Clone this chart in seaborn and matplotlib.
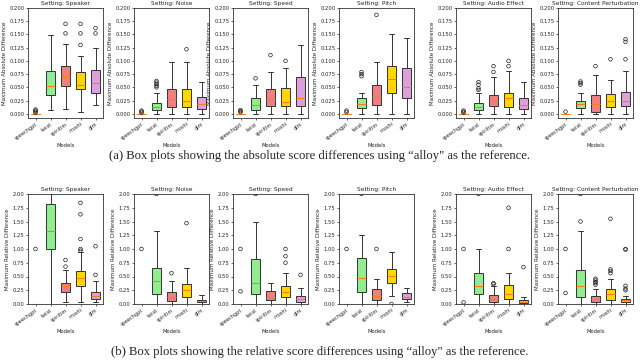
import numpy as np
import pandas as pd
import matplotlib
matplotlib.use("Agg")
import matplotlib.pyplot as plt
import seaborn as sns

# models and settings
MODELS = ["speechgpt", "twist", "spiritlm", "moshi", "glm"]
SETTINGS = ["Speaker", "Noise", "Speed", "Pitch", "Audio Effect", "Content Perturbation"]
COLORS = ["lightblue", "lightgreen", "lightcoral", "gold", "plum"]

# five-number summaries: [low whisker, q1, median, q3, high whisker]
# --- (a) absolute differences ---
abs_speaker = [[0, 0, 0, 0, 0], [0.008, 0.035, 0.052, 0.081, 0.149],
               [0.009, 0.052, 0.071, 0.090, 0.131], [0.003, 0.047, 0.055, 0.079, 0.109],
               [0.016, 0.040, 0.058, 0.083, 0.124]]
abs_speaker_out = [[0.002, 0.004, 0.006, 0.008], [], [0.152, 0.170],
                   [0.130, 0.152, 0.170], [0.152, 0.162]]
abs_noise = [[0, 0, 0, 0, 0], [0, 0.008, 0.013, 0.020, 0.039],
             [0, 0.013, 0.027, 0.046, 0.097], [0, 0.013, 0.025, 0.046, 0.097],
             [0, 0.009, 0.019, 0.032, 0.060]]
abs_noise_out = [[0.002, 0.004, 0.006], [0.050, 0.053, 0.056, 0.059, 0.062], [],
                 [0.122], []]
abs_speed = [[0, 0, 0, 0, 0], [0, 0.008, 0.016, 0.029, 0.055],
             [0, 0.014, 0.027, 0.046, 0.079], [0, 0.014, 0.023, 0.048, 0.087],
             [0, 0.014, 0.030, 0.069, 0.130]]
abs_speed_out = [[0.003, 0.005, 0.007], [0.067], [0.111], [0.100], []]
abs_pitch = [[0, 0, 0, 0, 0], [0, 0.010, 0.019, 0.030, 0.040],
             [0, 0.017, 0.032, 0.055, 0.097], [0, 0.040, 0.065, 0.090, 0.150],
             [0, 0.030, 0.050, 0.087, 0.144]]
abs_pitch_out = [[0.003, 0.006], [0.071, 0.075, 0.079], [0.187], [], []]
abs_audio = [[0, 0, 0, 0, 0], [0, 0.008, 0.013, 0.021, 0.040],
             [0, 0.014, 0.025, 0.036, 0.069], [0, 0.013, 0.029, 0.039, 0.081],
             [0, 0.009, 0.017, 0.030, 0.060]]
abs_audio_out = [[0.002, 0.004, 0.006], [0.045, 0.048, 0.055, 0.060], [0.079, 0.090],
                 [0.090, 0.100], []]
abs_content = [[0, 0, 0, 0, 0], [0, 0.010, 0.018, 0.025, 0.040],
               [0, 0.003, 0.018, 0.036, 0.073], [0, 0.013, 0.025, 0.038, 0.064],
               [0, 0.014, 0.025, 0.041, 0.081]]
abs_content_out = [[0.004], [0.055, 0.058, 0.061], [0.090], [0.103],
                   [0.103, 0.136, 0.141]]

# --- (b) relative differences ---
rel_speaker = [[0, 0, 0, 0, 0], [0, 1.00, 1.33, 1.82, 2.10],
               [0.03, 0.22, 0.32, 0.39, 0.62], [0.03, 0.33, 0.47, 0.60, 0.94],
               [0.04, 0.09, 0.15, 0.22, 0.41]]
rel_speaker_out = [[1.00], [], [0.68, 0.80], [0.97, 1.00, 1.18, 1.63, 1.84], [0.53, 1.05]]
rel_noise = [[0, 0, 0, 0, 0], [0, 0.18, 0.41, 0.66, 1.33],
             [0, 0.06, 0.13, 0.22, 0.41], [0, 0.13, 0.25, 0.36, 0.65],
             [0, 0.04, 0.06, 0.08, 0.16]]
rel_noise_out = [[1.00], [2.00], [0.56], [1.47], []]
rel_speed = [[0, 0, 0, 0, 0], [0, 0.18, 0.38, 0.81, 1.50],
             [0, 0.07, 0.13, 0.24, 0.39], [0, 0.13, 0.21, 0.33, 0.57],
             [0, 0.04, 0.09, 0.14, 0.30]]
rel_speed_out = [[0.23, 1.00], [2.00], [], [0.75, 0.87, 1.00], [0.53]]
rel_pitch = [[0, 0, 0, 0, 0], [0, 0.22, 0.47, 0.83, 1.26],
             [0, 0.07, 0.15, 0.27, 0.45], [0.15, 0.38, 0.51, 0.63, 0.94],
             [0.04, 0.09, 0.13, 0.20, 0.30]]
rel_pitch_out = [[1.00], [2.00], [1.00], [0.0], []]
rel_audio = [[0, 0, 0, 0, 0], [0, 0.19, 0.33, 0.57, 1.00],
             [0, 0.04, 0.10, 0.16, 0.33], [0, 0.10, 0.19, 0.35, 0.56],
             [0, 0.02, 0.04, 0.07, 0.13]]
rel_audio_out = [[0.03, 1.00], [2.00], [0.36, 0.38], [1.00, 1.75], [0.67]]
rel_content = [[0, 0, 0, 0, 0], [0, 0.13, 0.33, 0.62, 1.33],
               [0, 0.04, 0.09, 0.15, 0.27], [0, 0.08, 0.18, 0.27, 0.45],
               [0, 0.04, 0.07, 0.10, 0.15]]
rel_content_out = [[0.20, 1.00], [1.50, 2.00], [0.35, 0.38, 0.40, 0.43, 0.46],
                   [0.56, 0.60, 0.63, 1.55], [0.25, 0.28, 0.33, 0.99, 1.00]]

ABS_PANELS = [(abs_speaker, abs_speaker_out), (abs_noise, abs_noise_out),
              (abs_speed, abs_speed_out), (abs_pitch, abs_pitch_out),
              (abs_audio, abs_audio_out), (abs_content, abs_content_out)]
REL_PANELS = [(rel_speaker, rel_speaker_out), (rel_noise, rel_noise_out),
              (rel_speed, rel_speed_out), (rel_pitch, rel_pitch_out),
              (rel_audio, rel_audio_out), (rel_content, rel_content_out)]

sns.set_style("ticks")
plt.rcParams['font.family'] = ['DejaVu Sans']

W, H = 640, 363
fig = plt.figure(figsize=(W / 100, H / 100), dpi=100)

LEFTS = [28, 134, 233, 339, 456, 558]
AX_W = 75


def draw_panel(ax, boxes, outs, setting, ylabel, ylim, yticks, fmt):
    box_df = pd.DataFrame([(m, v) for m, five in zip(MODELS, boxes) for v in five],
                          columns=["model", "value"])
    out_df = pd.DataFrame([(m, v) for m, vals in zip(MODELS, outs) for v in vals],
                          columns=["model", "value"])
    sns.boxplot(data=box_df, x="model", y="value", hue="model", order=MODELS,
                hue_order=MODELS, palette=COLORS, legend=False, ax=ax,
                whis=(0, 100), showfliers=False, width=0.62, saturation=1,
                linecolor="#333333", linewidth=0.7,
                medianprops=dict(color="#ff7f0e", linewidth=0.8))
    if len(out_df):
        sns.stripplot(data=out_df, x="model", y="value", order=MODELS, ax=ax,
                      jitter=False, color="black", edgecolor="#222222",
                      facecolor="none", linewidth=0.5, size=2.6)
    ax.set_xlim(-0.5, 4.5)
    ax.set_ylim(*ylim)
    ax.set_yticks(yticks)
    ax.set_yticklabels([fmt.format(t) for t in yticks])
    ax.set_title(f"Setting: {setting}", fontsize=4.2, pad=2)
    ax.set_ylabel(ylabel, fontsize=4, labelpad=2)
    ax.set_xlabel("Models", fontsize=3.8, labelpad=2)
    ax.set_xticks(range(len(MODELS)))
    ax.set_xticklabels(MODELS, rotation=35, ha="right", rotation_mode="anchor",
                       fontsize=3.6)
    ax.tick_params(axis="y", labelsize=3.8, length=1.5, width=0.5, pad=1)
    ax.tick_params(axis="x", length=1.5, width=0.5, pad=1)
    for sp in ax.spines.values():
        sp.set_visible(True)
        sp.set_linewidth(0.6)
        sp.set_color("#333333")


abs_ticks = np.arange(0, 0.2001, 0.025)
rel_ticks = np.arange(0, 2.001, 0.25)

for i, (setting, (boxes, outs)) in enumerate(zip(SETTINGS, ABS_PANELS)):
    ax = fig.add_axes([LEFTS[i] / W, 1 - 118 / H, AX_W / W, 110 / H])
    draw_panel(ax, boxes, outs, setting, "Maximum Absolute Difference",
               (-0.008, 0.2), abs_ticks, "{:.3f}")

for i, (setting, (boxes, outs)) in enumerate(zip(SETTINGS, REL_PANELS)):
    ax = fig.add_axes([LEFTS[i] / W, 1 - 304 / H, AX_W / W, 110 / H])
    draw_panel(ax, boxes, outs, setting, "Maximum Relative Difference",
               (0, 2.0), rel_ticks, "{:.2f}")

cap_font = dict(fontsize=9.1, family=["Liberation Serif", "DejaVu Serif"],
                ha="center", va="center")
fig.text(0.5, 1 - 156 / H,
         "(a) Box plots showing the absolute score differences using \u201calloy\" as the reference.",
         **cap_font)
fig.text(0.5, 1 - 352 / H,
         "(b) Box plots showing the relative score differences using \u201calloy\" as the reference.",
         **cap_font)

fig.savefig("out.png", dpi=100)
